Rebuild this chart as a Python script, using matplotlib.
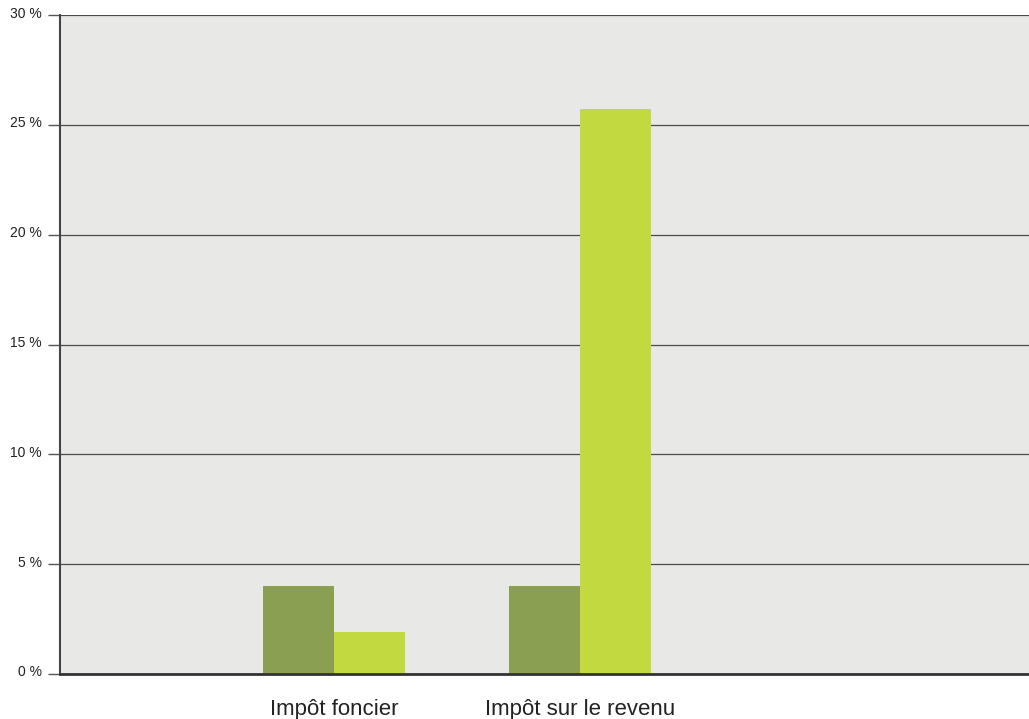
import matplotlib
matplotlib.use("Agg")
import numpy as np
import matplotlib.pyplot as plt
import matplotlib.transforms as mtransforms

categories = ["Impôt foncier", "Impôt sur le revenu"]
series_dark = [4.0, 4.0]
series_light = [1.9, 25.7]
y_ticks = [0, 5, 10, 15, 20, 25, 30]

plt.rcParams["font.family"] = ["Liberation Sans", "DejaVu Sans"]

fig = plt.figure(figsize=(10.29, 7.19), dpi=100)
ax = fig.add_axes([60 / 1029, 45 / 719, 969 / 1029, 659 / 719])
ax.set_facecolor("#e8e9e6")

x = np.arange(len(categories))
w = 0.288
ax.bar(x - w / 2, series_dark, width=w, color="#8b9f53", zorder=3)
ax.bar(x + w / 2, series_light, width=w, color="#c2d940", zorder=3)

ax.set_xlim(-1.114, 2.825)
ax.set_ylim(0, 30)
ax.set_yticks(y_ticks)
ax.set_yticklabels([f"{t} %" for t in y_ticks], fontsize=10, color="#222222")
ax.yaxis.grid(True, color="#4a4a4a", linewidth=0.9, zorder=1)
ax.tick_params(axis="y", length=8.6, width=1.0, color="#555555", pad=4.3)

# nudge the percentage labels a little above their gridlines
shift = mtransforms.ScaledTranslation(0, 3 / 100, fig.dpi_scale_trans)
for lbl in ax.get_yticklabels():
    lbl.set_transform(lbl.get_transform() + shift)

ax.set_xticks(x)
ax.set_xticklabels(categories, fontsize=16, color="#222222")
ax.tick_params(axis="x", length=0, pad=18)

for side in ["top", "right"]:
    ax.spines[side].set_visible(False)
ax.spines["left"].set_color("#444444")
ax.spines["left"].set_linewidth(1.5)
ax.spines["bottom"].set_color("#333333")
ax.spines["bottom"].set_linewidth(2.0)
ax.spines["bottom"].set_zorder(4)

fig.savefig("out.png", dpi=100, facecolor="white")
